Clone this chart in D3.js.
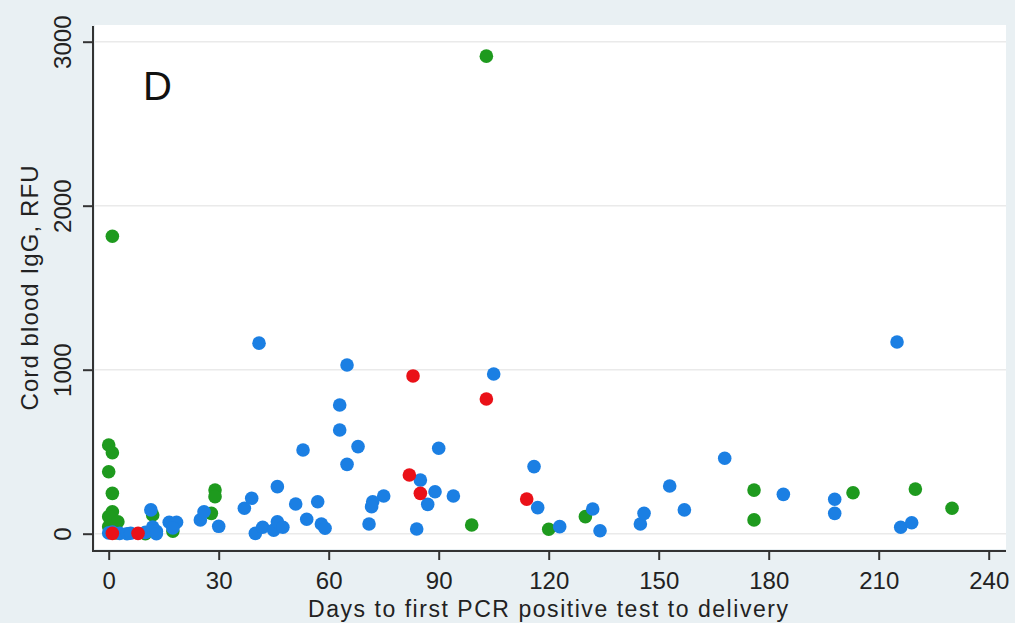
<!DOCTYPE html>
<html>
<head>
<meta charset="utf-8">
<script src="https://cdn.jsdelivr.net/npm/d3@7"></script>
<style>
  body { margin: 0; background: #e9f0f3; }
  svg { display: block; font-family: "Liberation Sans", Arial, sans-serif; }
</style>
</head>
<body>
<div id="chart"></div>
<script>
// days from first PCR positive test to delivery, and cord blood IgG (RFU)
var greenDays = [103, 1, 0, 1, 0, 1, 1, 0, 2.5, 0, 1, 2, 10, 12, 17.5, 29, 29, 28, 99, 120, 130, 176, 176, 203, 220, 230];
var greenVals = [2912, 1814, 541, 494, 378, 246, 134, 104, 73, 43, 30, 5, 0, 114, 16, 266, 226, 124, 53, 27, 104, 266, 84, 250, 272, 155];

var blueDays = [0, 1, 3, 5, 6, 10, 11.5, 12, 13, 13, 16.5, 18.5, 17.5, 25, 26, 30,
  37, 39, 40, 42, 45, 46, 47.5, 46, 41, 51, 53, 54, 57, 58, 59,
  63, 63, 65, 65, 68, 71, 72, 71.7, 75, 84, 85, 87, 89, 90, 94,
  105, 116, 117, 123, 132, 134, 145, 146, 153, 157, 168, 184, 198, 198, 215, 216, 219];
var blueVals = [5, 10, 2, 0, 3, 8, 145, 40, 15, 0, 70, 70, 35, 84, 134, 45,
  155, 216, 2, 39, 22, 73, 39, 287, 1162, 181, 510, 88, 195, 59, 33,
  785, 632, 1029, 423, 531, 59, 195, 165, 230, 29, 327, 179, 256, 521, 230,
  974, 409, 159, 43, 151, 18, 59, 124, 291, 145, 460, 240, 210, 124, 1169, 39, 67];

var redDays = [1, 8, 83, 103, 82, 85, 114];
var redVals = [2, 2, 962, 821, 358, 246, 211];

var xTicks = [0, 30, 60, 90, 120, 150, 180, 210, 240];
var yTicks = [0, 1000, 2000, 3000];

var W = 1015, H = 623;
var plot = {left: 95, right: 1006, top: 25, bottom: 549};

var svg = d3.select("#chart").append("svg")
  .attr("width", W)
  .attr("height", H);

var x = d3.scaleLinear().domain([0, 240]).range([108.7, 988.7]);
var y = d3.scaleLinear().domain([0, 3000]).range([533.7, 41.7]);

// white plot region
svg.append("rect")
  .attr("x", plot.left).attr("y", plot.top)
  .attr("width", plot.right - plot.left)
  .attr("height", plot.bottom - plot.top)
  .attr("fill", "#ffffff");

// gridlines
svg.append("g").selectAll("line")
  .data(yTicks)
  .enter().append("line")
    .attr("x1", plot.left).attr("x2", plot.right)
    .attr("y1", function(d) { return y(d); })
    .attr("y2", function(d) { return y(d); })
    .attr("stroke", "#eaeaea")
    .attr("stroke-width", 1.5);

// axes
var xAxis = svg.append("g")
  .attr("transform", "translate(0," + 551 + ")")
  .call(d3.axisBottom(x).tickValues(xTicks).tickSize(9).tickSizeOuter(0).tickPadding(12));
var yAxis = svg.append("g")
  .attr("transform", "translate(" + 93 + ",0)")
  .call(d3.axisLeft(y).tickValues(yTicks).tickFormat(d3.format("d")).tickSize(10).tickSizeOuter(0));

xAxis.select(".domain").remove();
yAxis.select(".domain").remove();
svg.append("line").attr("x1", 93).attr("x2", 93).attr("y1", 26).attr("y2", 552)
  .attr("stroke", "#333").attr("stroke-width", 2);
svg.append("line").attr("x1", 92).attr("x2", 1006).attr("y1", 551).attr("y2", 551)
  .attr("stroke", "#333").attr("stroke-width", 2);

xAxis.selectAll(".tick line").attr("stroke", "#333").attr("stroke-width", 2);
yAxis.selectAll(".tick line").attr("stroke", "#333").attr("stroke-width", 2);
xAxis.selectAll(".tick text")
  .attr("font-size", 24)
  .attr("fill", "#222")
  .attr("font-family", "Liberation Sans, Arial, sans-serif");
yAxis.selectAll(".tick text")
  .attr("font-size", 24)
  .attr("fill", "#222")
  .attr("font-family", "Liberation Sans, Arial, sans-serif")
  .attr("text-anchor", "middle")
  .attr("dy", null)
  .attr("x", null)
  .attr("transform", "translate(-22,0) rotate(-90)");

// axis titles
svg.append("text")
  .attr("x", 548).attr("y", 617)
  .attr("text-anchor", "middle")
  .attr("font-size", 23)
  .attr("textLength", 480)
  .attr("lengthAdjust", "spacing")
  .attr("fill", "#222")
  .text("Days to first PCR positive test to delivery");

svg.append("text")
  .attr("transform", "translate(38,288) rotate(-90)")
  .attr("text-anchor", "middle")
  .attr("font-size", 24)
  .attr("textLength", 245)
  .attr("lengthAdjust", "spacing")
  .attr("fill", "#222")
  .text("Cord blood IgG, RFU");

// panel letter
svg.append("text")
  .attr("x", 143).attr("y", 100)
  .attr("font-size", 40)
  .attr("fill", "#111")
  .text("D");

// markers
function drawSeries(days, vals, color) {
  var pts = days.map(function(d, i) { return {day: d, val: vals[i]}; });
  svg.append("g").selectAll("circle")
    .data(pts)
    .enter().append("circle")
      .attr("cx", function(d) { return x(d.day); })
      .attr("cy", function(d) { return y(d.val); })
      .attr("r", 6.8)
      .attr("fill", color);
}

drawSeries(greenDays, greenVals, "#1e9a1e");
drawSeries(blueDays, blueVals, "#1b7fe3");
drawSeries(redDays, redVals, "#ea1118");
</script>
</body>
</html>
